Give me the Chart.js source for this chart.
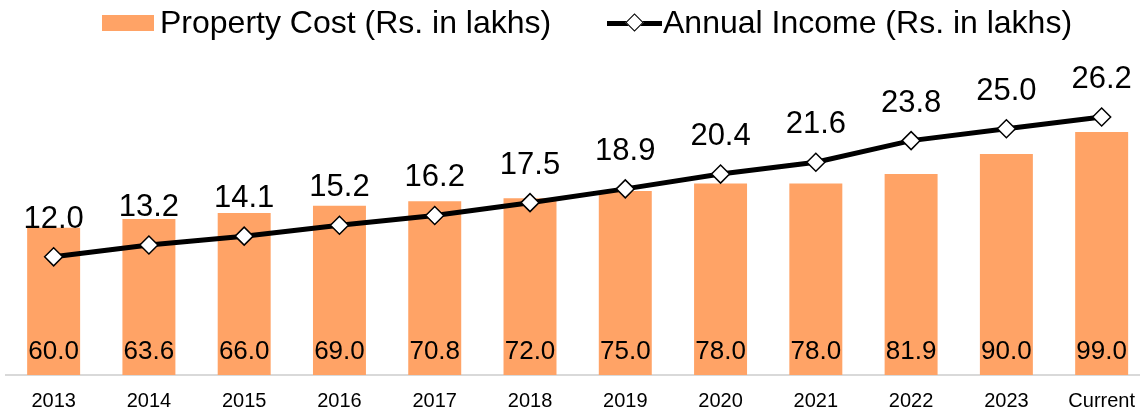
<!DOCTYPE html>
<html>
<head>
<meta charset="utf-8">
<script src="https://cdn.jsdelivr.net/npm/chart.js@4.4.1/dist/chart.umd.min.js"></script>
<style>
    html, body { margin: 0; padding: 0; background: #fff; overflow: hidden; }
    body { width: 1140px; height: 413px; position: relative; font-family: "Liberation Sans", Arial, sans-serif; }
    #costChart { position: absolute; left: 0; top: 0; display: block; }
    .lg { position: absolute; }
    .lg-text { position: absolute; top: 6px; font-size: 32px; line-height: 32px; color: #000; white-space: nowrap; }
</style>
</head>
<body>
<canvas id="costChart" width="1150" height="413" style="width:1150px;height:413px;"></canvas>
<div class="lg" style="left:102px;top:15px;width:52px;height:16px;background:#FFA366;"></div>
<div class="lg-text" style="left:160px;">Property Cost (Rs. in lakhs)</div>
<div class="lg" style="left:607px;top:21px;width:55px;height:5px;background:#000;"></div>
<div class="lg" style="left:628px;top:16px;width:11px;height:11px;background:#fff;border:1.5px solid #000;transform:rotate(45deg);"></div>
<div class="lg-text" style="left:663px;">Annual Income (Rs. in lakhs)</div>
<script>
const years = ['2013', '2014', '2015', '2016', '2017', '2018', '2019', '2020', '2021', '2022', '2023', 'Current'];
const propertyCost = [60.0, 63.6, 66.0, 69.0, 70.8, 72.0, 75.0, 78.0, 78.0, 81.9, 90.0, 99.0];
const annualIncome = [12.0, 13.2, 14.1, 15.2, 16.2, 17.5, 18.9, 20.4, 21.6, 23.8, 25.0, 26.2];

const FONT = '"Liberation Sans", Arial, sans-serif';

// value labels: income above the markers, cost at the foot of each bar
const valueLabels = {
    id: 'valueLabels',
    afterDatasetsDraw(chart) {
        const ctx = chart.ctx;
        const bottom = chart.chartArea.bottom;
        ctx.save();
        ctx.fillStyle = '#000';
        ctx.textAlign = 'center';
        ctx.textBaseline = 'alphabetic';

        ctx.font = '26px ' + FONT;
        chart.getDatasetMeta(0).data.forEach((bar, i) => {
            ctx.fillText(propertyCost[i].toFixed(1), bar.x, bottom - 16);
        });

        ctx.font = '31px ' + FONT;
        chart.getDatasetMeta(1).data.forEach((pt, i) => {
            ctx.fillText(annualIncome[i].toFixed(1), pt.x, pt.y - 29);
        });
        ctx.restore();
    },
};

new Chart(document.getElementById('costChart'), {
    data: {
        labels: years,
        datasets: [{
            type: 'bar',
            label: 'Property Cost (Rs. in lakhs)',
            data: propertyCost,
            backgroundColor: '#FFA366',
            categoryPercentage: 1,
            barPercentage: 0.556,
            yAxisID: 'y',
            order: 1,
        }, {
            type: 'line',
            label: 'Annual Income (Rs. in lakhs)',
            data: annualIncome,
            borderColor: '#000',
            borderWidth: 5,
            tension: 0,
            pointStyle: 'rectRot',
            pointRadius: 9,
            pointBorderWidth: 1.5,
            pointBackgroundColor: '#fff',
            pointBorderColor: '#000',
            yAxisID: 'y1',
            order: 0,
        }],
    },
    options: {
        responsive: false,
        devicePixelRatio: 1,
        animation: false,
        // tick padding is counted twice by the axis fit, so pull the bottom back
        layout: { autoPadding: false, padding: { top: 50, left: 6, right: 0, bottom: -15 } },
        plugins: { legend: { display: false }, tooltip: { enabled: false } },
        scales: {
            x: {
                grid: { display: false, drawTicks: false },
                border: { display: true, color: '#d9d9d9', width: 2 },
                ticks: { padding: 15, color: '#000', maxRotation: 0, font: { family: FONT, size: 20, lineHeight: 1.15 } },
            },
            y: { display: false, min: 0, max: 132.4 },
            y1: { display: false, min: 0, max: 33 },
        },
    },
    plugins: [valueLabels],
});
</script>
</body>
</html>
